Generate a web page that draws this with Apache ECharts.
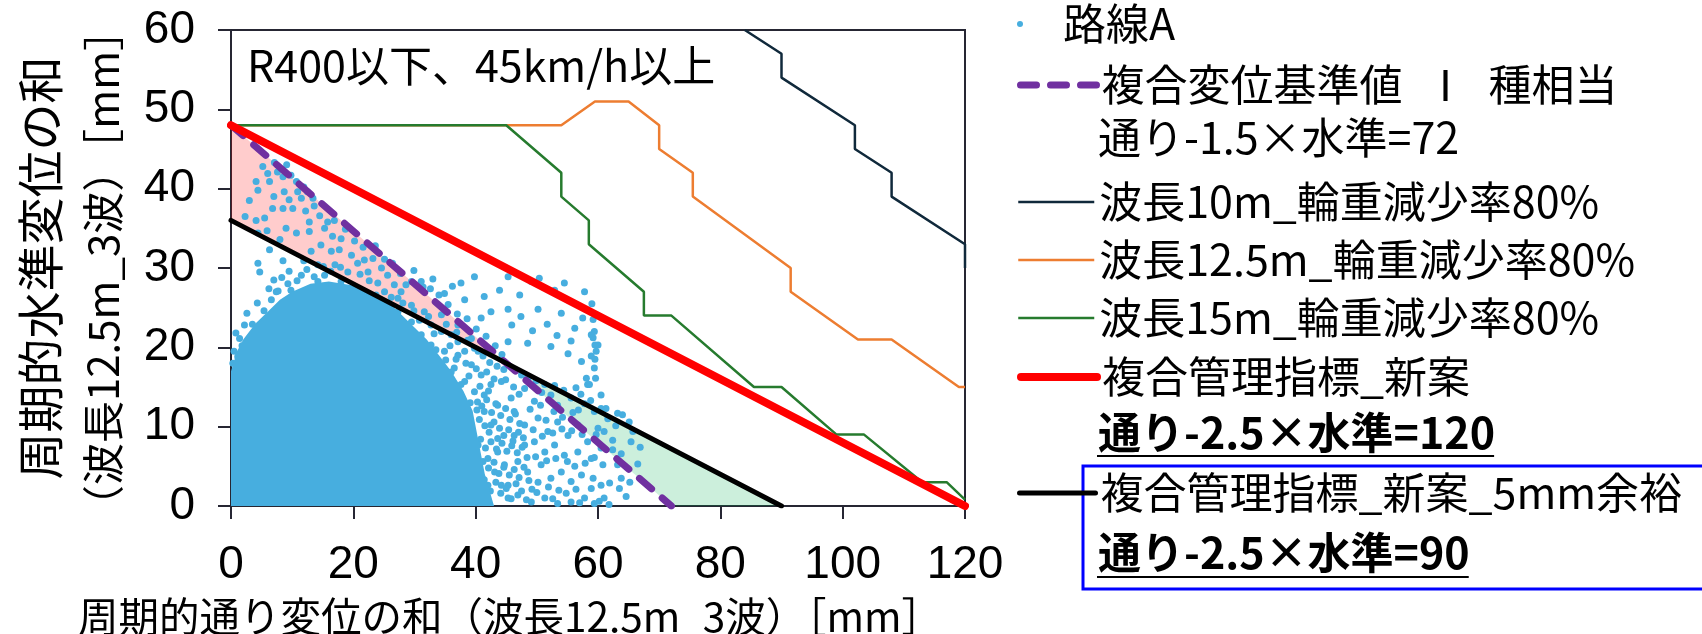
<!DOCTYPE html>
<html>
<head>
<meta charset="utf-8">
<script src="https://cdn.jsdelivr.net/npm/echarts@6/dist/echarts.min.js"></script>
<style>
  html, body { margin: 0; padding: 0; background: #fff; }
  #chart { width: 1702px; height: 634px; }
</style>
</head>
<body>
<div id="chart"></div>
<script>
// axis ticks
const xTicks = [0, 20, 40, 60, 80, 100, 120];
const yTicks = [0, 10, 20, 30, 40, 50, 60];

// 路線A: dense core of the cloud (upper envelope, filled down to 0)
const routeACore = [[0, 17], [1, 19.5], [2, 21], [4, 23], [6, 24.5], [8, 26], [10, 27], [13, 28],
  [16, 28.3], [20, 27.8], [23, 27], [26, 25.5], [28, 24], [30, 22.5], [32, 21], [34, 19], [36, 17],
  [38, 14.5], [39.5, 12], [40.5, 8], [41.5, 4], [43, 0]];

// 路線A: individual points
const routeAPoints = [
  [4.1, 40.9], [4.4, 39.8], [6.0, 41.9], [6.3, 40.9], [7.6, 42.1], [8.5, 41.5], [9.8, 41.7], [10.7, 40.9],
  [8.7, 39.6], [10.9, 39.6], [6.8, 37.5], [8.5, 37.5], [10.1, 37.5], [11.5, 38.8], [13.4, 38.8], [4.1, 36.0],
  [5.5, 36.3], [9.0, 35.0], [10.7, 34.4], [12.8, 35.8], [13.6, 37.8], [15.3, 35.0], [15.8, 35.8], [12.8, 34.6],
  [13.1, 32.1], [14.7, 32.9], [16.4, 32.1], [16.6, 34.0], [18.0, 33.7], [17.7, 32.3], [19.7, 31.6], [20.7, 30.6],
  [21.8, 31.0], [23.2, 31.2], [22.4, 29.5], [24.6, 30.0], [25.6, 29.1], [26.7, 27.9], [27.8, 27.0], [28.6, 27.9],
  [29.5, 28.3], [17.0, 30.4], [14.2, 30.4], [11.9, 40.2], [12.5, 39.6],
  [5.2, 42.8], [7.1, 43.3], [9.1, 43.0], [7.0, 39.0], [9.5, 38.6], [12.2, 37.2], [14.5, 36.6], [16.9, 36.0],
  [18.7, 34.9], [20.2, 33.4], [21.6, 32.6], [23.6, 32.8], [25.1, 31.1], [26.4, 30.6], [27.7, 29.3], [29.9, 29.7],
  [31.4, 27.6], [32.6, 27.4], [34.0, 26.6], [35.5, 25.4], [37.0, 24.2], [38.6, 23.6], [40.1, 22.3], [41.7, 21.4],
  [43.2, 20.2], [44.3, 19.1], [3.0, 38.5], [2.3, 36.5], [5.9, 34.7], [8.0, 33.6],
  [4.4, 34.4], [6.3, 32.3], [4.4, 30.6], [4.7, 29.5], [8.5, 30.9], [11.9, 30.9], [7.4, 27.0], [9.3, 28.0],
  [11.5, 29.1], [15.3, 29.1], [14.2, 28.3], [18.0, 28.3], [20.2, 27.0],
  [7.7, 27.1], [6.6, 26.0], [4.7, 22.0], [3.0, 21.1], [1.4, 21.1], [1.1, 18.8], [0.3, 18.0], [2.2, 22.8],
  [9.8, 27.2], [11.5, 25.8], [13.7, 27.0], [16.9, 27.4], [21.8, 26.0], [23.7, 26.6], [25.1, 25.3],
  [27.3, 24.5], [29.5, 23.2], [31.1, 21.6],
  [0.5, 19.5], [0.8, 21.8], [1.8, 20.2], [2.6, 24.3], [3.5, 22.9], [4.3, 25.6], [5.4, 24.6], [6.2, 27.4],
  [7.0, 28.5], [8.3, 28.8], [9.5, 29.6], [10.8, 28.4], [12.4, 29.8], [13.6, 28.9], [15.1, 30.2], [16.3, 29.6],
  [17.9, 30.1], [19.1, 29.5], [21.1, 29.2], [22.6, 28.4], [24.0, 28.1],
  [31.1, 28.3], [34.9, 26.8], [37.6, 28.1], [39.8, 28.9], [45.3, 28.9], [49.1, 28.3], [50.4, 28.7], [52.9, 27.2],
  [54.5, 28.1], [57.8, 27.0], [38.2, 26.0], [42.5, 24.5], [45.3, 24.8], [50.2, 24.8], [54.0, 24.3], [57.5, 23.7],
  [40.9, 23.7], [58.9, 21.6], [52.3, 20.1], [48.5, 20.5], [45.3, 20.7], [55.1, 19.2], [59.7, 19.5], [57.3, 18.2],
  [59.4, 17.4], [58.1, 16.1], [58.3, 15.3], [60.0, 20.3], [56.2, 22.4],
  [45.9, 22.8], [47.4, 23.9], [49.3, 22.1], [51.7, 22.9], [53.3, 21.5], [55.6, 20.8], [47.2, 26.6], [43.9, 27.2],
  [41.4, 26.4], [36.2, 27.7], [33.0, 28.6],
  [32.7, 20.3], [34.9, 19.5], [37.1, 19.0], [36.5, 17.4], [39.3, 17.8], [40.9, 16.5], [38.2, 15.7], [42.5, 15.3],
  [44.2, 15.7], [41.4, 14.0], [43.6, 12.7], [45.8, 13.6], [46.3, 11.9], [48.0, 14.8], [49.6, 13.2], [51.3, 15.3],
  [52.3, 14.0], [53.4, 12.7], [55.6, 13.6], [57.8, 12.9], [59.4, 11.9], [60.5, 14.0], [48.0, 10.2], [50.2, 11.1],
  [51.8, 9.4], [53.4, 10.6], [55.1, 8.9], [56.7, 10.2], [58.3, 8.1], [60.0, 9.8], [46.3, 8.9], [48.0, 7.7],
  [49.6, 8.1], [51.3, 6.8], [52.9, 7.7], [54.5, 6.4], [56.7, 6.8], [58.9, 6.0], [60.5, 7.3], [46.9, 5.6],
  [48.5, 4.3], [50.7, 5.2], [52.3, 3.5], [54.0, 4.3], [55.6, 3.1], [57.3, 3.9], [58.9, 2.2], [60.5, 2.6],
  [45.3, 2.6], [46.9, 1.4], [49.1, 0.5], [51.3, 1.0], [53.4, 0.3], [55.6, 0.5], [57.8, 1.0], [59.4, 0.3],
  [40.3, 13.1], [41.0, 12.6], [41.8, 13.4], [42.6, 11.8], [43.3, 12.9], [44.1, 11.4], [44.9, 12.3], [45.6, 10.9],
  [46.5, 11.6], [47.2, 10.4], [40.6, 10.9], [41.5, 10.1], [42.2, 9.3], [43.0, 10.6], [43.9, 9.8], [44.6, 8.9],
  [45.4, 9.6], [46.1, 8.2], [47.0, 9.3], [47.8, 8.6], [40.8, 8.4], [41.6, 7.3], [42.5, 8.1], [43.4, 7.2],
  [44.3, 7.9], [45.1, 6.9], [45.9, 7.6], [46.8, 6.7], [47.6, 7.4], [48.4, 6.1], [41.2, 5.6], [42.1, 4.8],
  [43.0, 5.5], [43.8, 4.1], [44.6, 4.9], [45.5, 3.9], [46.3, 4.6], [47.1, 3.6], [47.9, 4.9], [48.7, 3.2],
  [41.4, 3.3], [42.4, 1.9], [43.3, 3.0], [44.1, 1.6], [45.0, 2.2], [45.8, 0.9], [46.6, 2.8], [47.5, 1.9],
  [48.3, 0.8], [49.2, 2.1],
  [48.9, 12.2], [50.6, 12.7], [51.5, 10.8], [52.8, 11.9], [54.2, 11.2], [55.9, 11.8], [56.8, 12.1], [49.4, 9.6],
  [50.9, 8.8], [52.6, 9.2], [54.1, 9.7], [55.7, 9.5], [57.4, 9.0], [49.8, 6.2], [51.6, 5.7], [53.1, 6.0],
  [55.0, 5.6], [56.2, 5.0], [57.9, 5.4], [50.2, 3.0], [51.9, 2.4], [53.6, 2.0], [54.8, 1.6], [56.4, 2.1],
  [57.0, 0.4], [50.0, 1.7], [52.6, 0.9],
  [26.2, 26.3], [28.1, 25.6], [29.9, 24.6], [30.8, 23.4], [32.3, 23.9], [33.2, 21.7], [35.2, 22.9], [35.8, 20.2],
  [36.9, 21.9], [38.7, 20.9], [39.8, 19.9], [41.2, 18.9], [42.3, 18.1], [43.5, 17.6], [44.6, 17.2], [33.5, 19.7],
  [35.1, 18.4], [36.8, 18.5], [38.4, 18.0], [40.1, 17.3], [41.8, 16.9], [43.0, 16.0], [44.9, 15.9], [46.2, 15.0],
  [47.1, 14.1], [38.9, 16.4], [40.7, 15.1], [42.1, 14.5], [39.1, 13.0], [40.2, 12.1],
  [47.5, 16.5], [48.6, 16.2], [49.9, 15.8], [50.8, 14.3], [52.9, 15.2], [54.4, 14.6], [56.4, 14.9], [57.2, 14.1],
  [58.8, 13.3],
  [25.1, 27.0], [27.3, 26.2], [29.5, 25.3], [31.6, 24.5], [32.7, 22.8], [34.4, 22.0], [36.0, 21.6], [37.1, 20.7],
  [38.2, 19.5], [34.4, 24.1], [37.1, 22.8], [39.3, 21.1], [40.4, 19.5], [31.6, 20.3], [33.8, 18.2], [36.0, 16.9],
  [37.6, 15.3], [39.8, 14.4], [41.4, 11.9], [42.5, 10.2], [43.6, 8.5], [40.4, 7.7], [42.0, 6.0], [43.1, 4.3],
  [44.2, 2.6], [45.3, 1.0], [42.0, 2.6], [40.9, 1.0], [43.6, 6.8], [44.7, 5.2],
  [59.0, 25.5], [59.2, 23.5], [59.4, 22.0], [59.2, 21.2], [59.5, 20.3], [58.9, 18.9], [59.5, 18.5], [59.6, 16.1],
  [58.6, 15.3], [60.5, 12.3], [61.3, 12.3], [63.2, 11.7], [64.0, 11.5], [65.1, 10.6], [65.7, 9.4], [65.4, 8.1],
  [63.8, 6.6], [62.4, 8.3], [61.0, 9.4], [59.7, 9.0], [62.4, 7.1], [63.2, 5.2], [63.8, 3.5], [63.5, 2.2],
  [61.9, 2.9], [60.8, 5.2], [59.4, 6.1], [59.2, 3.5], [61.0, 1.0], [61.8, 0.2], [60.2, 0.6],
  [66.5, 5.3], [65.2, 3.0], [64.6, 1.2], [62.9, 10.1], [66.9, 7.4], [61.6, 11.0]
];

// 複合変位基準値Ⅰ種相当 (通り-1.5×水準=72)
const standard72 = [[0, 48], [72, 0]];
// 輪重減少率80% lines
const wave10 = [[84, 60], [90, 57], [90, 54], [102, 48], [102, 45], [108, 42], [108, 39], [120, 33], [120, 30]];
const wave125 = [[0, 48], [54, 48], [59.5, 51], [65, 51], [70, 48], [70, 45], [75.5, 42], [75.5, 39],
  [91.5, 30], [91.5, 27], [102.5, 21], [108, 21], [119, 15], [120, 15]];
const wave15 = [[0, 48], [45, 48], [54, 42], [54, 39], [58.5, 36], [58.5, 33], [67.5, 27], [67.5, 24],
  [72, 24], [85.5, 15], [90, 15], [99, 9], [103.5, 9], [113, 3], [117, 3], [120, 0.8]];
// 複合管理指標_新案 (=120) and 5mm余裕 (=90)
const newIndex120 = [[0, 48], [120, 0]];
const newIndex90 = [[0, 36], [90, 0]];

const jpFont = '"Noto Sans CJK JP", sans-serif';
const numFont = '"Liberation Sans Narrow", "Liberation Sans", sans-serif';
const axisColor = '#262633';
const blue = '#47AEDF';

// crossing of the 72 line and the 90 line, used for the shaded areas
function cross(a, b) {
  const [p1, p2] = a, [q1, q2] = b;
  const ma = (p2[1] - p1[1]) / (p2[0] - p1[0]);
  const mb = (q2[1] - q1[1]) / (q2[0] - q1[0]);
  const x = (q1[1] - p1[1] + ma * p1[0] - mb * q1[0]) / (ma - mb);
  return [x, p1[1] + ma * (x - p1[0])];
}
const c = cross(standard72, newIndex90);
const pinkArea = [standard72[0], c, newIndex90[0]];
const greenArea = [c, newIndex90[1], standard72[1]];

function polygonSeries(points, color) {
  return {
    type: 'custom',
    silent: true,
    clip: true,
    data: [[0, 0]],
    renderItem: (params, api) => ({
      type: 'polygon',
      shape: { points: points.map(p => api.coord(p)) },
      style: { fill: color }
    })
  };
}

function stepLine(name, data, color, width) {
  return {
    name: name, type: 'line', data: data, symbol: 'none',
    lineStyle: { color: color, width: width }, itemStyle: { color: color }
  };
}

const names = {
  route: '路線A',
  std: '複合変位基準値\u2002Ⅰ\u2002種相当',
  w10: '波長10m_輪重減少率80%',
  w125: '波長12.5m_輪重減少率80%',
  w15: '波長15m_輪重減少率80%',
  n120: '複合管理指標_新案',
  n90: '複合管理指標_新案_5mm余裕'
};

const legendRows = [
  { name: names.route, y: 24, h: 6, lw: 0 },
  { name: names.std, y: 85, h: 14, lw: 7 },
  { name: names.w10, y: 202, h: 14, lw: 2.5 },
  { name: names.w125, y: 260, h: 14, lw: 2.5 },
  { name: names.w15, y: 318, h: 14, lw: 2.5 },
  { name: names.n120, y: 377, h: 14, lw: 8 },
  { name: names.n90, y: 493, h: 14, lw: 5 }
];

const chart = echarts.init(document.getElementById('chart'));

const ctx = document.createElement('canvas').getContext('2d');
function textWidth(t, font) { ctx.font = font; return ctx.measureText(t).width; }

const sub1 = '通り-1.5×水準=72';
const sub2 = '通り-2.5×水準=120';
const sub3 = '通り-2.5×水準=90';
const legFont = '43px "Noto Sans CJK JP"';
const boldFont = 'bold 43px "Noto Sans CJK JP"';
const w2 = textWidth(sub2, boldFont);
const w3 = textWidth(sub3, boldFont);

chart.setOption({
  animation: false,
  grid: { left: 231, right: 737, top: 30, bottom: 128, show: true, borderColor: axisColor, borderWidth: 2,
    containLabel: false, outerBoundsMode: 'none' },
  xAxis: {
    type: 'value', min: 0, max: 120, interval: 20,
    axisLine: { show: true, onZero: false, lineStyle: { color: axisColor, width: 2 } },
    axisTick: { show: true, length: 13, lineStyle: { color: axisColor, width: 2 } },
    axisLabel: { fontSize: 46, fontFamily: numFont, color: '#000', margin: 36 },
    splitLine: { show: false }
  },
  yAxis: {
    type: 'value', min: 0, max: 60, interval: 10,
    axisLine: { show: true, onZero: false, lineStyle: { color: axisColor, width: 2 } },
    axisTick: { show: true, length: 13, lineStyle: { color: axisColor, width: 2 } },
    axisLabel: { fontSize: 46, fontFamily: numFont, color: '#000', margin: 36 },
    splitLine: { show: false }
  },
  legend: legendRows.map((r, i) => ({
    data: [r.name], left: 1017, top: r.y - 25, padding: 0,
    itemWidth: 76, itemHeight: r.h, selectedMode: false,
    textStyle: { fontSize: 43, lineHeight: 50, color: '#000', fontFamily: jpFont },
    lineStyle: { width: r.lw },
    itemStyle: i === 0 ? {} : { opacity: 0 }
  })),
  series: [
    { type: 'line', data: routeACore, symbol: 'none', silent: true,
      lineStyle: { width: 0 }, areaStyle: { color: blue, opacity: 1 } },
    { name: names.route, type: 'scatter', data: routeAPoints, symbolSize: 7, itemStyle: { color: blue, opacity: 1 } },
    polygonSeries(pinkArea, 'rgba(255,0,0,0.2)'),
    polygonSeries(greenArea, 'rgba(0,176,80,0.2)'),
    { name: names.std, type: 'line', data: standard72, symbol: 'none',
      lineStyle: { color: '#7030A0', width: 7, type: [16, 14], cap: 'round' }, itemStyle: { color: '#7030A0' } },
    stepLine(names.w10, wave10, '#10293B', 2.5),
    stepLine(names.w125, wave125, '#ED7D31', 2.5),
    stepLine(names.w15, wave15, '#267B2E', 2.5),
    { name: names.n120, type: 'line', data: newIndex120, symbol: 'none',
      lineStyle: { color: '#FF0000', width: 8, cap: 'round' }, itemStyle: { color: '#FF0000' } },
    { name: names.n90, type: 'line', data: newIndex90, symbol: 'none',
      lineStyle: { color: '#000000', width: 5, cap: 'round' }, itemStyle: { color: '#000000' } }
  ],
  graphic: [
    { type: 'text', x: 247, y: 66, style: { text: 'R400以下、45km/h以上', font: '43px "Noto Sans CJK JP"',
      fill: '#000', align: 'left', verticalAlign: 'middle' } },
    { type: 'text', x: 510, y: 617, style: { text: '周期的通り変位の和（波長12.5m_3波）［mm］',
      font: '40.5px "Noto Sans CJK JP"', fill: '#000', align: 'center', verticalAlign: 'middle' } },
    { type: 'text', x: 40, y: 268, rotation: Math.PI / 2, style: { text: '周期的水準変位の和',
      font: '47px "Noto Sans CJK JP"', fill: '#000', align: 'center', verticalAlign: 'middle' } },
    { type: 'text', x: 103, y: 268, rotation: Math.PI / 2, style: { text: '（波長12.5m_3波）［mm］',
      font: '42px "Noto Sans CJK JP"', fill: '#000', align: 'center', verticalAlign: 'middle' } },
    { type: 'text', x: 1098, y: 138, style: { text: sub1, font: legFont,
      fill: '#000', align: 'left', verticalAlign: 'middle' } },
    { type: 'text', x: 1098, y: 433, style: { text: sub2, font: boldFont,
      fill: '#000', align: 'left', verticalAlign: 'middle' } },
    { type: 'line', shape: { x1: 1097, y1: 456, x2: 1097 + w2, y2: 456 }, style: { stroke: '#000', lineWidth: 2 } },
    { type: 'rect', shape: { x: 1083, y: 466, width: 640, height: 123 },
      style: { fill: 'none', stroke: '#0000FF', lineWidth: 3 } },
    { type: 'text', x: 1098, y: 553, style: { text: sub3, font: boldFont,
      fill: '#000', align: 'left', verticalAlign: 'middle' } },
    { type: 'line', shape: { x1: 1097, y1: 577, x2: 1097 + w3, y2: 577 }, style: { stroke: '#000', lineWidth: 2 } }
  ]
});
</script>
</body>
</html>
